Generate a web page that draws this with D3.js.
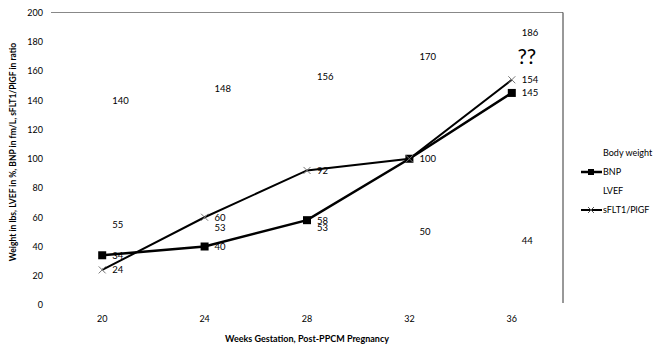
<!DOCTYPE html>
<html><head><meta charset="utf-8">
<script src="https://cdn.jsdelivr.net/npm/d3@7"></script>
<style>body{margin:0;background:#fff}svg{display:block}text{font-family:Lato,"Open Sans",sans-serif;fill:#000}</style>
</head><body>
<svg id="c" width="653" height="347"></svg>
<script>
const weeks = ["20","24","28","32","36"];
const bodyWeight = [140,148,156,170,186];
const bnp = [34,40,58,100,145];
const lvef = [55,53,53,50,44];
const sflt = [24,60,92,100,154];
const yTicks = [0,20,40,60,80,100,120,140,160,180,200];
const annotation = "??";

const svg = d3.select("#c");
const x = d3.scaleBand().domain(weeks).range([51,563]).padding(0);
const y = d3.scaleLinear().domain([0,200]).range([305,12.5]);
const cx = w => x(w) + x.bandwidth()/2;

// border (top + right)
svg.append("line").attr("x1",51).attr("x2",563).attr("y1",y(200)).attr("y2",y(200)).attr("stroke","#888").attr("stroke-width",1);
svg.append("line").attr("x1",563).attr("x2",563).attr("y1",y(200)).attr("y2",303).attr("stroke","#333").attr("stroke-width",1);

// y axis
const ya = svg.append("g").attr("transform","translate(43,0)").call(d3.axisLeft(y).tickValues(yTicks).tickSize(0).tickPadding(0));
ya.select(".domain").remove();
ya.selectAll("text").attr("font-size",9).attr("font-family","Lato").attr("fill","#000");

// x axis
const xa = svg.append("g").attr("transform","translate(0,316)").call(d3.axisBottom(x).tickSize(0).tickPadding(0));
xa.select(".domain").remove();
xa.selectAll("text").attr("font-size",9).attr("font-family","Lato").attr("fill","#000");

// titles
svg.append("text").attr("x",307).attr("y",342).attr("text-anchor","middle").attr("font-size",9).attr("font-weight","bold").text("Weeks Gestation, Post-PPCM Pregnancy");
svg.append("text").attr("transform","translate(16,152) rotate(-90)").attr("text-anchor","middle").attr("font-size",8.5).attr("font-weight","bold").text("Weight in lbs, LVEF in %,  BNP in fm/L, sFLT1/PlGF in ratio");

const line = d3.line().x((d,i)=>cx(weeks[i])).y(d=>y(d));

// sFLT line
svg.append("path").datum(sflt).attr("d",line).attr("fill","none").attr("stroke","#000").attr("stroke-width",2);
// BNP line
svg.append("path").datum(bnp).attr("d",line).attr("fill","none").attr("stroke","#000").attr("stroke-width",2.5);

// BNP markers
svg.selectAll(".bm").data(bnp).join("rect").attr("x",(d,i)=>cx(weeks[i])-4).attr("y",d=>y(d)-4).attr("width",8).attr("height",8).attr("fill","#000");
// sFLT markers
svg.selectAll(".sm").data(sflt).join("path").attr("d",(d,i)=>{const a=cx(weeks[i]),b=y(d),s=3.5;return `M${a-s},${b-s}L${a+s},${b+s}M${a-s},${b+s}L${a+s},${b-s}`;}).attr("stroke","#777").attr("stroke-width",1);

function labels(arr, cls, skip){
  svg.selectAll("."+cls).data(arr.map((v,i)=>({v,i})).filter(d=>!(skip||[]).includes(d.i))).join("text").attr("class",cls)
    .attr("x",d=>cx(weeks[d.i])+10).attr("y",d=>y(d.v)).attr("dy","0.35em")
    .attr("font-size",9.5).text(d=>d.v);
}
labels(bodyWeight,"lb");
labels(lvef,"ll");
labels(bnp,"lbn",[3]);
labels(sflt,"ls");

svg.append("text").attr("x",cx("36")+15).attr("y",y(186)+31).attr("text-anchor","middle").attr("font-size",21).attr("font-family","DejaVu Sans").text(annotation);

// legend
const leg = [{n:"Body weight",m:null},{n:"BNP",m:"sq"},{n:"LVEF",m:null},{n:"sFLT1/PlGF",m:"x"}];
leg.forEach((e,i)=>{
  const ly = 153 + i*19;
  if(e.m){
    svg.append("line").attr("x1",581).attr("x2",602).attr("y1",ly).attr("y2",ly).attr("stroke","#000").attr("stroke-width",e.m==="sq"?2.5:2);
    if(e.m==="sq") svg.append("rect").attr("x",588).attr("y",ly-3).attr("width",6).attr("height",6).attr("fill","#000");
    else svg.append("path").attr("d",`M${588},${ly-3}L${594},${ly+3}M${588},${ly+3}L${594},${ly-3}`).attr("stroke","#555").attr("stroke-width",1);
  }
  svg.append("text").attr("x",603).attr("y",ly).attr("dy","0.35em").attr("font-size",9).text(e.n);
});
</script>
</body></html>
